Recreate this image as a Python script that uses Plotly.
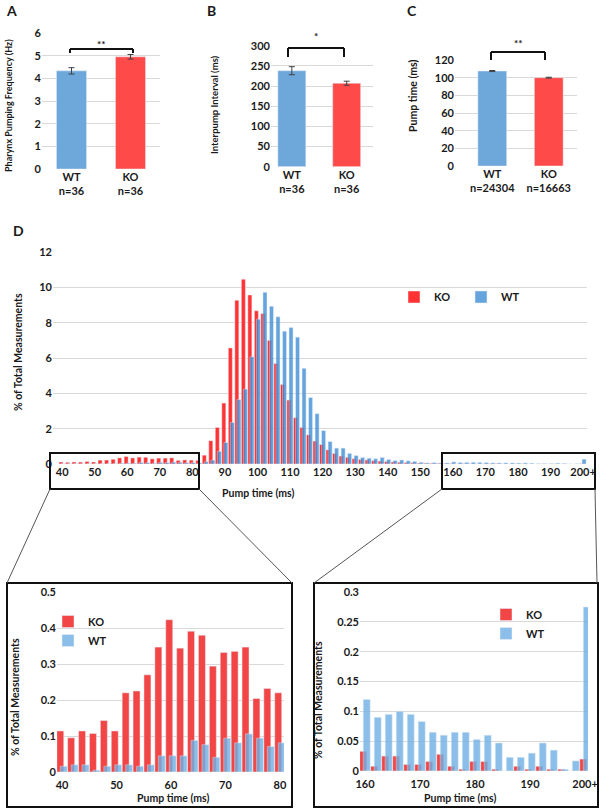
import plotly.graph_objects as go

# ---------------- data ----------------
groups = ["WT", "KO"]
a_ticktext = ["WT<br>n=36", "KO<br>n=36"]
a_freq = [4.33, 4.95]
a_err = [0.14, 0.10]

b_ticktext = ["WT<br>n=36", "KO<br>n=36"]
b_ipi = [238, 207]
b_err = [10, 5]

c_ticktext = ["WT<br>n=24304", "KO<br>n=16663"]
c_pump = [107.5, 100.0]
c_err = [0.6, 0.5]

bins = [str(v) for v in range(40, 200, 2)] + ["200+"]
d_tickvals = ["40", "50", "60", "70", "80", "90", "100", "110", "120", "130",
              "140", "150", "160", "170", "180", "190", "200+"]
left_tickvals = ["40", "50", "60", "70", "80"]
right_tickvals = ["160", "170", "180", "190", "200+"]

ko_pct = [
    # 40-80
    0.114, 0.095, 0.114, 0.107, 0.143, 0.114, 0.220, 0.225, 0.270, 0.347, 0.423,
    0.344, 0.391, 0.380, 0.294, 0.332, 0.335, 0.347, 0.204, 0.232, 0.220,
    # 82-112
    0.21, 0.5, 1.32, 2.07, 3.45, 6.57, 9.27, 10.46, 9.57, 8.67, 8.52, 7.0, 5.69, 4.5, 3.62, 2.62,
    # 114-158
    2.07, 1.65, 1.3, 1.1, 0.8, 0.6, 0.45, 0.38, 0.3, 0.26, 0.23, 0.19, 0.17, 0.14,
    0.12, 0.1, 0.08, 0.07, 0.05, 0.05, 0.04, 0.04, 0.03,
    # 160-200+
    0.033, 0.008, 0.025, 0.025, 0.011, 0.011, 0.016, 0.028, 0.008, 0.003, 0.016,
    0.016, 0.003, 0.0, 0.008, 0.003, 0.008, 0.003, 0.003, 0.0, 0.02,
]
wt_pct = [
    # 40-80
    0.016, 0.020, 0.020, 0.005, 0.016, 0.020, 0.020, 0.016, 0.020, 0.045, 0.045,
    0.045, 0.088, 0.076, 0.041, 0.094, 0.081, 0.106, 0.094, 0.071, 0.081,
    # 82-112
    0.06, 0.13, 0.22, 0.72, 1.22, 2.35, 3.65, 4.24, 6.07, 8.2, 9.72, 8.93, 8.33, 7.52, 7.72, 7.18,
    # 114-158
    5.42, 3.76, 2.85, 1.89, 1.27, 0.9, 0.9, 0.6, 0.48, 0.37, 0.33, 0.3, 0.37, 0.26,
    0.2, 0.23, 0.18, 0.15, 0.1, 0.06, 0.08, 0.05, 0.06,
    # 160-200+
    0.12, 0.09, 0.095, 0.10, 0.095, 0.083, 0.065, 0.06, 0.065, 0.065, 0.053,
    0.06, 0.047, 0.023, 0.023, 0.03, 0.047, 0.035, 0.003, 0.017, 0.275,
]

left_bins, left_ko, left_wt = bins[:21], ko_pct[:21], wt_pct[:21]
right_bins, right_ko, right_wt = bins[60:], ko_pct[60:], wt_pct[60:]

# ---------------- style ----------------
W, H = 600, 811
FONT = "Lato"
WT_C = "#6ea7da"
KO_C = "#ff4a4a"
D_KO = "#ff3333"
D_WT = "#3b8bd4"
I_KO = "#f24646"
I_WT = "#6fb0e4"
GRID = "#d9d9d9"
TXT = "#1a1a1a"


def px(x):
    return x / W


def py(y):
    return 1 - y / H


fig = go.Figure()

err_style = dict(type="data", color="#404040", thickness=1, width=3)

fig.add_trace(go.Bar(x=groups, y=a_freq, marker_color=[WT_C, KO_C], width=0.51,
                     error_y=dict(array=a_err, **err_style), xaxis="x", yaxis="y",
                     showlegend=False))
fig.add_trace(go.Bar(x=groups, y=b_ipi, marker_color=[WT_C, KO_C], width=0.51,
                     error_y=dict(array=b_err, **err_style), xaxis="x2", yaxis="y2",
                     showlegend=False))
fig.add_trace(go.Bar(x=groups, y=c_pump, marker_color=[WT_C, KO_C], width=0.51,
                     error_y=dict(array=c_err, **err_style), xaxis="x3", yaxis="y3",
                     showlegend=False))

# D main
fig.add_trace(go.Bar(x=bins, y=ko_pct, name="KO", marker_color=D_KO, offset=-0.48, width=0.62,
                     xaxis="x4", yaxis="y4", legend="legend"))
fig.add_trace(go.Bar(x=bins, y=wt_pct, name="WT", marker_color=D_WT, offset=-0.16, width=0.62,
                     opacity=0.78, xaxis="x4", yaxis="y4", legend="legend"))
# left inset
fig.add_trace(go.Bar(x=left_bins, y=left_ko, name="KO", marker_color=I_KO, offset=-0.48, width=0.64,
                     xaxis="x5", yaxis="y5", legend="legend2"))
fig.add_trace(go.Bar(x=left_bins, y=left_wt, name="WT", marker_color=I_WT, offset=-0.16, width=0.64,
                     opacity=0.8, xaxis="x5", yaxis="y5", legend="legend2"))
# right inset
fig.add_trace(go.Bar(x=right_bins, y=right_ko, name="KO", marker_color=I_KO, offset=-0.48, width=0.64,
                     xaxis="x6", yaxis="y6", legend="legend3"))
fig.add_trace(go.Bar(x=right_bins, y=right_wt, name="WT", marker_color=I_WT, offset=-0.16, width=0.64,
                     opacity=0.8, xaxis="x6", yaxis="y6", legend="legend3"))


def xax(dom, rng, tickvals, ticktext=None, anchor="y", size=11, standoff=None):
    d = dict(domain=[px(dom[0]), px(dom[1])], range=rng, type="category",
             tickmode="array", tickvals=tickvals, ticktext=ticktext or tickvals,
             showgrid=False, zeroline=False, showline=False, ticks="",
             tickfont=dict(family=FONT, size=size, color=TXT, weight="bold"),
             anchor=anchor, fixedrange=True, automargin=False)
    if standoff is not None:
        d["ticklabelstandoff"] = standoff
    return d


def yax(dom, rng, dtick, anchor="x", size=11):
    return dict(domain=[py(dom[1]), py(dom[0])], range=rng, dtick=dtick,
                showgrid=True, gridcolor=GRID, gridwidth=1, zeroline=False,
                showline=False, ticks="", anchor=anchor, automargin=False,
                tickfont=dict(family=FONT, size=size, color=TXT, weight="bold"),
                fixedrange=True)


legfont = dict(family=FONT, size=11, color=TXT, weight="bold")

fig.update_layout(
    width=W, height=H, autosize=False,
    margin=dict(l=0, r=0, t=0, b=0, pad=0, autoexpand=False),
    paper_bgcolor="white", plot_bgcolor="white",
    barmode="overlay",
    font=dict(family=FONT, color=TXT),
    xaxis=xax((42, 160), [-0.5, 1.5], groups, a_ticktext, "y"),
    yaxis=yax((33, 169), [0, 6], 1, "x"),
    xaxis2=xax((271, 373), [-0.38, 1.48], groups, b_ticktext, "y2"),
    yaxis2=yax((45.7, 166.7), [0, 300], 50, "x2"),
    xaxis3=xax((455, 577), [-0.66, 1.5], groups, c_ticktext, "y3"),
    yaxis3=yax((60, 166), [0, 120], 20, "x3"),
    xaxis4=xax((53, 587), [-1.4, 80.6], d_tickvals, None, "y4"),
    yaxis4=yax((252, 464), [0, 12], 2, "x4"),
    xaxis5=xax((57, 284), [-0.46, 20.37], left_tickvals, None, "y5", standoff=5),
    yaxis5=yax((592, 772), [0, 0.5], 0.1, "x5"),
    xaxis6=xax((360, 588), [-0.45, 20.27], right_tickvals, None, "y6", standoff=5),
    yaxis6=yax((592, 771), [0, 0.3], 0.05, "x6"),
    legend=dict(x=px(394), y=py(297), xanchor="left", yanchor="middle", orientation="h",
                entrywidth=22, entrywidthmode="pixels", bgcolor="rgba(0,0,0,0)",
                font=legfont),
    legend2=dict(x=px(48), y=py(631), xanchor="left", yanchor="middle", orientation="v",
                 tracegroupgap=0, bgcolor="rgba(0,0,0,0)", font=legfont),
    legend3=dict(x=px(486), y=py(624), xanchor="left", yanchor="middle", orientation="v",
                 tracegroupgap=0, bgcolor="rgba(0,0,0,0)", font=legfont),
)

ann = []


def label(text, x, y, size=13, angle=0, xanchor="center"):
    ann.append(dict(text=text, x=px(x), y=py(y), xref="paper", yref="paper",
                    showarrow=False, textangle=angle, xanchor=xanchor, yanchor="middle",
                    font=dict(family=FONT, size=size, color=TXT, weight="bold")))


label("A", 4, 10, 14, xanchor="left")
label("B", 205, 10, 14, xanchor="left")
label("C", 405, 10, 14, xanchor="left")
label("D", 11, 231, 14, xanchor="left")
label("Pharynx Pumping Frequency (Hz)", 9, 106, 9, -90)
label("Interpump Interval (ms)", 214, 105, 9.5, -90)
label("Pump time (ms)", 413, 96, 10.5, -90)
label("% of Total Measurements", 18, 352, 10.5, -90)
label("Pump time (ms)", 258, 493, 10.5)
label("% of Total Measurements", 15, 697, 10.5, -90)
label("Pump time (ms)", 173, 798, 10.5)
label("% of Total Measurements", 318, 700, 10.5, -90)
label("Pump time (ms)", 460, 798, 10.5)
# significance stars
label("**", 101.5, 44, 10)
label("*", 316, 36, 10)
label("**", 518, 43, 10)
fig.update_layout(annotations=ann)

shapes = []


def seg(x0, y0, x1, y1, color="#555", w=1):
    shapes.append(dict(type="line", x0=px(x0), x1=px(x1), y0=py(y0), y1=py(y1),
                       xref="paper", yref="paper", line=dict(color=color, width=w)))


def bracket(x0, x1, ytop, ybot):
    seg(x0, ybot, x0, ytop, "#111", 2)
    seg(x0, ytop, x1, ytop, "#111", 2)
    seg(x1, ytop, x1, ybot, "#111", 2)


bracket(70, 133, 49, 53)
bracket(288, 344, 48, 57)
bracket(491, 545, 52, 60)


def rect(x0, y0, x1, y1, w=2):
    shapes.append(dict(type="rect", x0=px(x0), x1=px(x1), y0=py(y1), y1=py(y0),
                       xref="paper", yref="paper", line=dict(color="#111", width=w)))


rect(50, 453, 199, 489)
rect(442, 453, 595, 489)
rect(7, 583, 292, 807)
rect(314, 583, 598, 807)
seg(50, 489, 7, 583)
seg(199, 489, 292, 583)
seg(442, 489, 314, 583)
seg(595, 489, 597, 583)
fig.update_layout(shapes=shapes)

fig.write_html(
    "out.html",
    config={"displayModeBar": False},
    post_script="document.body.style.margin='0';document.documentElement.style.overflow='hidden';",
)
